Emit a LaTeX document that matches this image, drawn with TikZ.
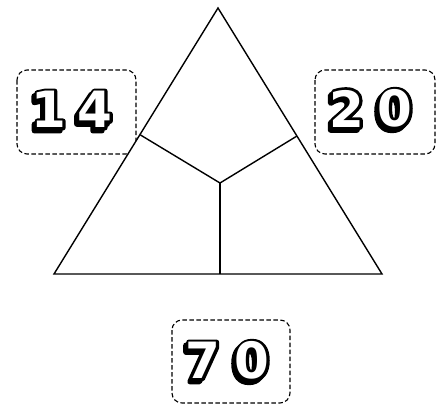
\documentclass[tikz,border=0pt]{standalone}
\usepackage{fontspec}
\newfontfamily\digitfont{DejaVu Sans}[BoldFont={DejaVu Sans Bold}]
\newcommand\dgfont{\digitfont\bfseries\fontsize{50}{50}\selectfont}
\newcommand\strokeon[1]{\special{pdf:literal direct #1 w 1 j 1 J 2 Tr}}
\newcommand\strokeoff{\special{pdf:literal direct 0 Tr}}
\newcommand\fancydigit[1]{%
  \hbox{%
    \rlap{\kern-3pt\raisebox{-3pt}{\color{black}\strokeon{5.5}\dgfont #1\strokeoff}}%
    \rlap{\color{black}\strokeon{5.5}\dgfont #1\strokeoff}%
    {\color{white}\dgfont #1}}}
\tikzset{
  numbox/.style={draw=black, line width=1.1pt, dash pattern=on 4.5pt off 2.5pt, rounded corners=10pt},
  tri/.style={draw=black, line width=1.4pt, fill=white, line join=miter},
  part/.style={draw=black, line width=1.4pt},
  dig/.style={inner sep=0pt, anchor=center}
}
\begin{document}
\begin{tikzpicture}[x=1pt,y=-1pt]
\useasboundingbox (0,0) rectangle (445,405);
% number boxes
\draw[numbox] (17,70) rectangle (136,154);
\draw[numbox] (315,70) rectangle (435,154);
\draw[numbox] (172,320) rectangle (290,403);
% triangle
\coordinate (A) at (218,8);
\coordinate (B) at (54,274);
\coordinate (C) at (382,274);
\coordinate (L) at (140.5,135);
\coordinate (R) at (297,136);
\coordinate (M) at (220,183);
\coordinate (D) at (220,274);
\draw[tri] (A) -- (B) -- (C) -- cycle;
\draw[part] (L) -- (M) -- (R);
\draw[part] (M) -- (D);
% digits
\node[dig] (n1) at (49,111) {\fancydigit{1}};
\node[dig] (n4) at (95,111) {\fancydigit{4}};
\node[dig] (n2) at (347,110) {\fancydigit{2}};
\node[dig] (n0a) at (395,110) {\fancydigit{0}};
\node[dig] (n7) at (203,362) {\fancydigit{7}};
\node[dig] (n0b) at (252,362) {\fancydigit{0}};
\end{tikzpicture}
\end{document}
